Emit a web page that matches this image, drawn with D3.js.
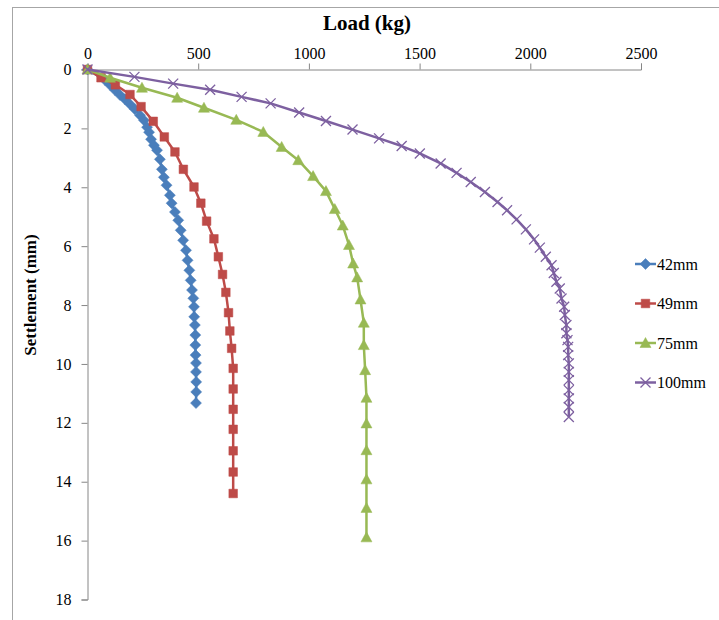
<!DOCTYPE html>
<html>
<head>
<meta charset="utf-8">
<script src="https://cdn.jsdelivr.net/npm/d3@7"></script>
<style>
  html, body { margin: 0; padding: 0; background: #fff; }
  svg { display: block; }
  text { font-family: "Liberation Serif", "Times New Roman", serif; fill: #000; }
</style>
</head>
<body>
<svg id="chart" width="719" height="620"></svg>
<script>
// Load (kg) vs settlement (mm) for four footing sizes
const seriesNames = ["42mm", "49mm", "75mm", "100mm"];

const load42 = [0, 79, 102, 124, 147, 169, 192, 214, 237, 255, 269, 278, 287, 300, 314, 327, 336, 345, 357, 372, 380, 395, 410, 421, 432, 445, 452, 460, 466, 472, 478, 481, 482, 485, 487, 487, 488, 490, 490, 491, 491, 490];
const settle42 = [0, 0.36, 0.53, 0.70, 0.87, 1.01, 1.18, 1.35, 1.55, 1.72, 1.96, 2.13, 2.37, 2.57, 2.74, 3.05, 3.39, 3.66, 3.93, 4.27, 4.54, 4.84, 5.12, 5.46, 5.80, 6.14, 6.48, 6.82, 7.16, 7.49, 7.77, 8.06, 8.40, 8.68, 9.02, 9.36, 9.70, 9.97, 10.27, 10.61, 10.95, 11.33];

const load49 = [0, 61, 126, 192, 242, 297, 347, 395, 433, 481, 512, 538, 571, 591, 610, 625, 637, 643, 651, 658, 658, 658, 658, 658, 658, 658];
const settle49 = [0, 0.28, 0.52, 0.85, 1.26, 1.76, 2.29, 2.80, 3.39, 3.99, 4.54, 5.15, 5.75, 6.36, 6.96, 7.57, 8.26, 8.88, 9.47, 10.15, 10.85, 11.54, 12.22, 12.95, 13.67, 14.40];

const load75 = [0, 102, 246, 405, 526, 672, 794, 877, 952, 1019, 1077, 1117, 1153, 1181, 1200, 1218, 1233, 1248, 1248, 1254, 1260, 1260, 1260, 1260, 1260, 1260];
const settle75 = [0, 0.28, 0.62, 0.96, 1.30, 1.71, 2.12, 2.63, 3.08, 3.62, 4.13, 4.74, 5.30, 5.96, 6.59, 7.06, 7.81, 8.60, 9.36, 10.21, 11.15, 12.02, 12.93, 13.92, 14.89, 15.89];

const load100 = [0, 212, 387, 554, 696, 827, 956, 1077, 1197, 1317, 1419, 1501, 1595, 1667, 1731, 1795, 1852, 1895, 1938, 1980, 2017, 2043, 2070, 2096, 2106, 2118, 2133, 2141, 2153, 2156, 2163, 2163, 2168, 2171, 2171, 2174, 2174, 2174, 2174, 2174, 2174, 2174];
const settle100 = [0, 0.25, 0.48, 0.69, 0.93, 1.15, 1.46, 1.75, 2.04, 2.34, 2.60, 2.85, 3.19, 3.51, 3.82, 4.16, 4.50, 4.78, 5.09, 5.43, 5.77, 6.05, 6.36, 6.65, 6.91, 7.21, 7.44, 7.78, 8.06, 8.34, 8.68, 8.96, 9.19, 9.42, 9.70, 9.98, 10.27, 10.55, 10.89, 11.17, 11.46, 11.80];

const loadTicks = [0, 500, 1000, 1500, 2000, 2500];
const settleTicks = [0, 2, 4, 6, 8, 10, 12, 14, 16, 18];

const colors = ["#4A7EBB", "#BE4B48", "#98B954", "#7D60A0"];
const markers = ["diamond", "square", "triangle", "cross"];

const series = [
  { name: seriesNames[0], load: load42, settle: settle42 },
  { name: seriesNames[1], load: load49, settle: settle49 },
  { name: seriesNames[2], load: load75, settle: settle75 },
  { name: seriesNames[3], load: load100, settle: settle100 }
];

const svg = d3.select("#chart");

// chart-area frame
svg.append("rect")
  .attr("x", 12.5).attr("y", 7.5)
  .attr("width", 720).attr("height", 620)
  .attr("fill", "none").attr("stroke", "#a6a6a6").attr("stroke-width", 1);

const x = d3.scaleLinear().domain([0, 2500]).range([87.5, 641]);
const y = d3.scaleLinear().domain([0, 18]).range([69.5, 599.5]);

// top load axis
const xAxis = svg.append("g")
  .attr("transform", "translate(0,69.5)")
  .call(d3.axisTop(x).tickValues(loadTicks).tickSize(6).tickPadding(5).tickFormat(d3.format("d")));
// left settlement axis (increasing downward)
const yAxis = svg.append("g")
  .attr("transform", "translate(87.5,0)")
  .call(d3.axisLeft(y).tickValues(settleTicks).tickSize(6).tickPadding(10).tickFormat(d3.format("d")));

[xAxis, yAxis].forEach(g => {
  g.select(".domain").attr("stroke", "#868686").attr("stroke-width", 1);
  g.selectAll(".tick line").attr("stroke", "#868686");
  g.selectAll(".tick text")
    .attr("font-family", "Liberation Serif, serif")
    .attr("font-size", 16)
    .attr("fill", "#000");
});

// axis titles
svg.append("text")
  .attr("x", 367).attr("y", 30)
  .attr("text-anchor", "middle")
  .attr("font-size", 21).attr("font-weight", "bold")
  .text("Load (kg)");

svg.append("text")
  .attr("transform", "translate(36,295) rotate(-90)")
  .attr("text-anchor", "middle")
  .attr("font-size", 17).attr("font-weight", "bold")
  .text("Settlement (mm)");

// marker path generators
function markerPath(type) {
  switch (type) {
    case "diamond": return "M0,-5.5L5.5,0L0,5.5L-5.5,0Z";
    case "square": return "M-4.3,-4.3H4.3V4.3H-4.3Z";
    case "triangle": return "M0,-5.5L5.5,4.5L-5.5,4.5Z";
    case "cross": return "M-5,-5L5,5M-5,5L5,-5";
  }
}

const line = d3.line().x(d => x(d[0])).y(d => y(d[1]));

series.forEach((s, i) => {
  const pts = s.load.map((v, k) => [v, s.settle[k]]);
  const g = svg.append("g");
  g.append("path")
    .attr("d", line(pts))
    .attr("fill", "none")
    .attr("stroke", colors[i])
    .attr("stroke-width", 2.5)
    .attr("stroke-linejoin", "round");
  g.selectAll("path.mk")
    .data(pts)
    .join("path")
    .attr("class", "mk")
    .attr("transform", d => `translate(${x(d[0])},${y(d[1])})`)
    .attr("d", markerPath(markers[i]))
    .attr("fill", markers[i] === "cross" ? "none" : colors[i])
    .attr("stroke", colors[i])
    .attr("stroke-width", markers[i] === "cross" ? 1.3 : 0.5);
});

// legend
const legendY = [264, 303.5, 343, 382.5];
const legend = svg.append("g");
series.forEach((s, i) => {
  const g = legend.append("g").attr("transform", `translate(0,${legendY[i]})`);
  g.append("line")
    .attr("x1", 635).attr("x2", 656)
    .attr("stroke", colors[i]).attr("stroke-width", 2.5);
  g.append("path")
    .attr("transform", "translate(645.5,0)")
    .attr("d", markerPath(markers[i]))
    .attr("fill", markers[i] === "cross" ? "none" : colors[i])
    .attr("stroke", colors[i])
    .attr("stroke-width", markers[i] === "cross" ? 1.3 : 0.5);
  g.append("text")
    .attr("x", 657).attr("y", 0)
    .attr("dy", "0.35em")
    .attr("font-size", 16)
    .text(s.name);
});
</script>
</body>
</html>
